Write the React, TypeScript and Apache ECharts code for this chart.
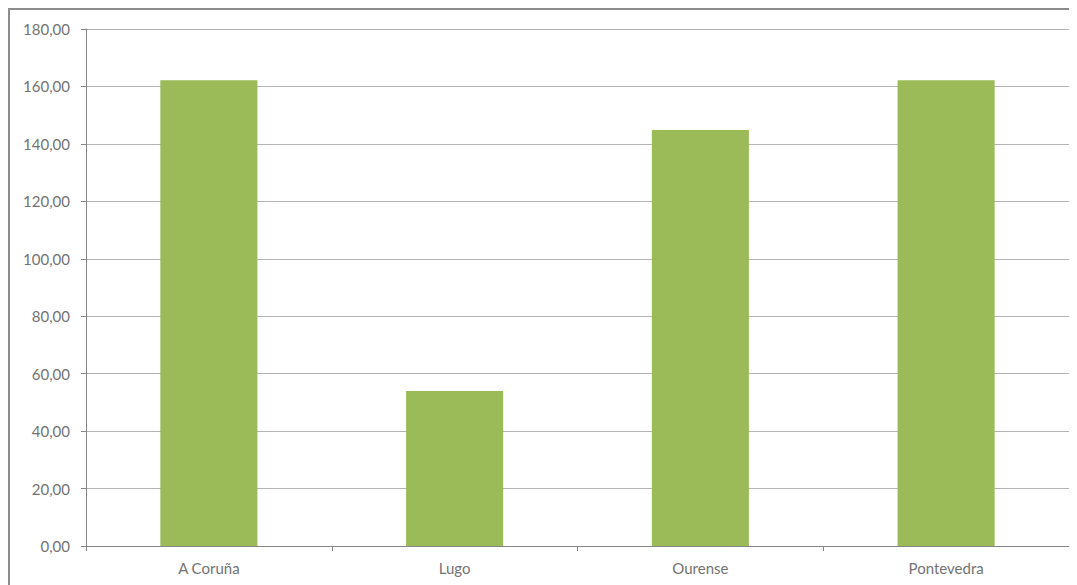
import React, { useEffect, useRef } from "react";
import * as echarts from "echarts";

const categories = ["A Coruña", "Lugo", "Ourense", "Pontevedra"];
const values = [162.2, 54.0, 144.8, 162.2];
const yTicks = { min: 0, max: 180, interval: 20 };

export default function App() {
  const ref = useRef<HTMLDivElement>(null);
  useEffect(() => {
    document.body.style.overflow = "hidden";
    const chart = echarts.init(ref.current!, null, { renderer: "svg" });
    chart.setOption({
      animation: false,
      grid: { left: 76, top: 19, right: 8, bottom: 39, containLabel: false },
      xAxis: {
        type: "category",
        data: categories,
        boundaryGap: true,
        axisLine: { show: true, lineStyle: { color: "#868686", width: 1 } },
        axisTick: { show: true, length: 5, lineStyle: { color: "#868686" } },
        axisLabel: {
          color: "#737373",
          fontFamily: "Lato",
          fontSize: 15,
          margin: 14,
        },
      },
      yAxis: {
        type: "value",
        min: yTicks.min,
        max: yTicks.max,
        interval: yTicks.interval,
        axisLine: { show: true, lineStyle: { color: "#868686", width: 1 } },
        axisTick: { show: true, length: 5, lineStyle: { color: "#868686" } },
        splitLine: { show: true, lineStyle: { color: "#b3b3b3", width: 1 } },
        axisLabel: {
          color: "#737373",
          fontFamily: "Lato",
          fontSize: 15,
          margin: 16,
          formatter: (v: number) => v.toFixed(2).replace(".", ","),
        },
      },
      series: [
        {
          type: "bar",
          data: values,
          barWidth: "39.5%",
          itemStyle: { color: "#9BBB59" },
        },
      ],
    });
    return () => chart.dispose();
  }, []);
  return (
    <div
      style={{
        width: 1069,
        height: 577,
        boxSizing: "border-box",
        borderTop: "2px solid #8c8c8c",
        borderLeft: "2px solid #8c8c8c",
        background: "#fff",
      }}
    >
      <div ref={ref} style={{ width: 1067, height: 575 }} />
    </div>
  );
}
